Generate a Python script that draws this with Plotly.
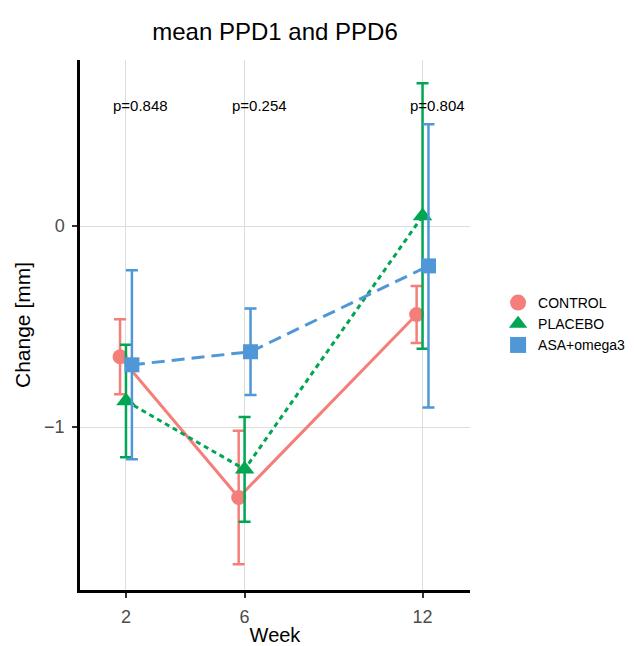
import numpy as np
import plotly.graph_objects as go

weeks = [2, 6, 12]
groups = ["CONTROL", "PLACEBO", "ASA+omega3"]
control_mean = [-0.65, -1.35, -0.44]
control_err = [0.187, 0.332, 0.142]
placebo_mean = [-0.87, -1.21, 0.05]
placebo_err = [0.28, 0.26, 0.66]
asa_mean = [-0.69, -0.625, -0.198]
asa_err = [0.47, 0.215, 0.704]
p_labels = ["p=0.848", "p=0.254", "p=0.804"]
p_y = 0.6

colors = ["#F47F7A", "#00A651", "#4F97D7"]
symbols = ["circle", "triangle-up", "square"]
dashes = ["solid", "5px,4px", "13px,7px"]
offsets = [-0.2, 0.0, 0.2]
means = [control_mean, placebo_mean, asa_mean]
errs = [control_err, placebo_err, asa_err]
msizes = [15, 17, 15]

font = "Liberation Sans, Arial, sans-serif"
fig = go.Figure()
wk = np.array(weeks, dtype=float)
for g, m, e, c, s, d, o, ms in zip(groups, means, errs, colors, symbols, dashes, offsets, msizes):
    fig.add_trace(go.Scatter(
        x=wk + o, y=m, mode="lines+markers", name=g, showlegend=False,
        line=dict(color=c, width=3, dash=d),
        marker=dict(color=c, symbol=s, size=ms),
        error_y=dict(type="data", array=e, visible=True, color=c, thickness=2.5, width=6),
    ))
for g, c, s, ms in zip(groups, colors, symbols, [16, 18, 16]):
    fig.add_trace(go.Scatter(
        x=[None], y=[None], mode="markers", name=g,
        marker=dict(color=c, symbol=s, size=ms),
    ))

for w, t in zip(weeks, p_labels):
    fig.add_annotation(x=w + 0.5, y=p_y, text=t, showarrow=False,
                       font=dict(size=15, color="black", family=font))

fig.update_layout(
    width=634, height=646,
    margin=dict(l=80, r=164, t=60, b=56, autoexpand=False),
    paper_bgcolor="white", plot_bgcolor="white",
    font=dict(family=font, color="black"),
    title=dict(text="mean PPD1 and PPD6", x=(80 + 195) / 634, xanchor="center",
               y=1 - 32 / 646, yanchor="middle", font=dict(size=24, color="black")),
    legend=dict(x=1.072, xanchor="left", y=0.502, yanchor="middle",
                font=dict(size=14, color="black"), tracegroupgap=0,
                itemsizing="trace", itemwidth=30, bgcolor="rgba(0,0,0,0)"),
    showlegend=True,
)
fig.update_xaxes(
    range=[0.45, 13.6], tickvals=weeks, ticktext=[str(w) for w in weeks],
    showgrid=True, gridcolor="#DDDDDD", gridwidth=1, zeroline=False,
    showline=True, linecolor="black", linewidth=2.5, automargin=False,
    ticks="outside", ticklen=5, tickwidth=2, tickcolor="#333333",
    ticklabelstandoff=4,
    tickfont=dict(size=18, color="#4D4D4D"),
    title=dict(text="Week", font=dict(size=20, color="black"), standoff=4),
)
fig.update_yaxes(
    range=[-1.81, 0.826], tickvals=[0, -1], ticktext=["0", "\u22121"],
    showgrid=True, gridcolor="#DDDDDD", gridwidth=1, zeroline=False,
    showline=True, linecolor="black", linewidth=2.5, automargin=False,
    ticks="outside", ticklen=5, tickwidth=2, tickcolor="#333333",
    ticklabelstandoff=4,
    tickfont=dict(size=18, color="#4D4D4D"),
    title=dict(text="Change [mm]", font=dict(size=21, color="black"), standoff=8),
)
fig.write_html("out.html", post_script="document.body.style.margin='0';",
               config={"displayModeBar": False})
